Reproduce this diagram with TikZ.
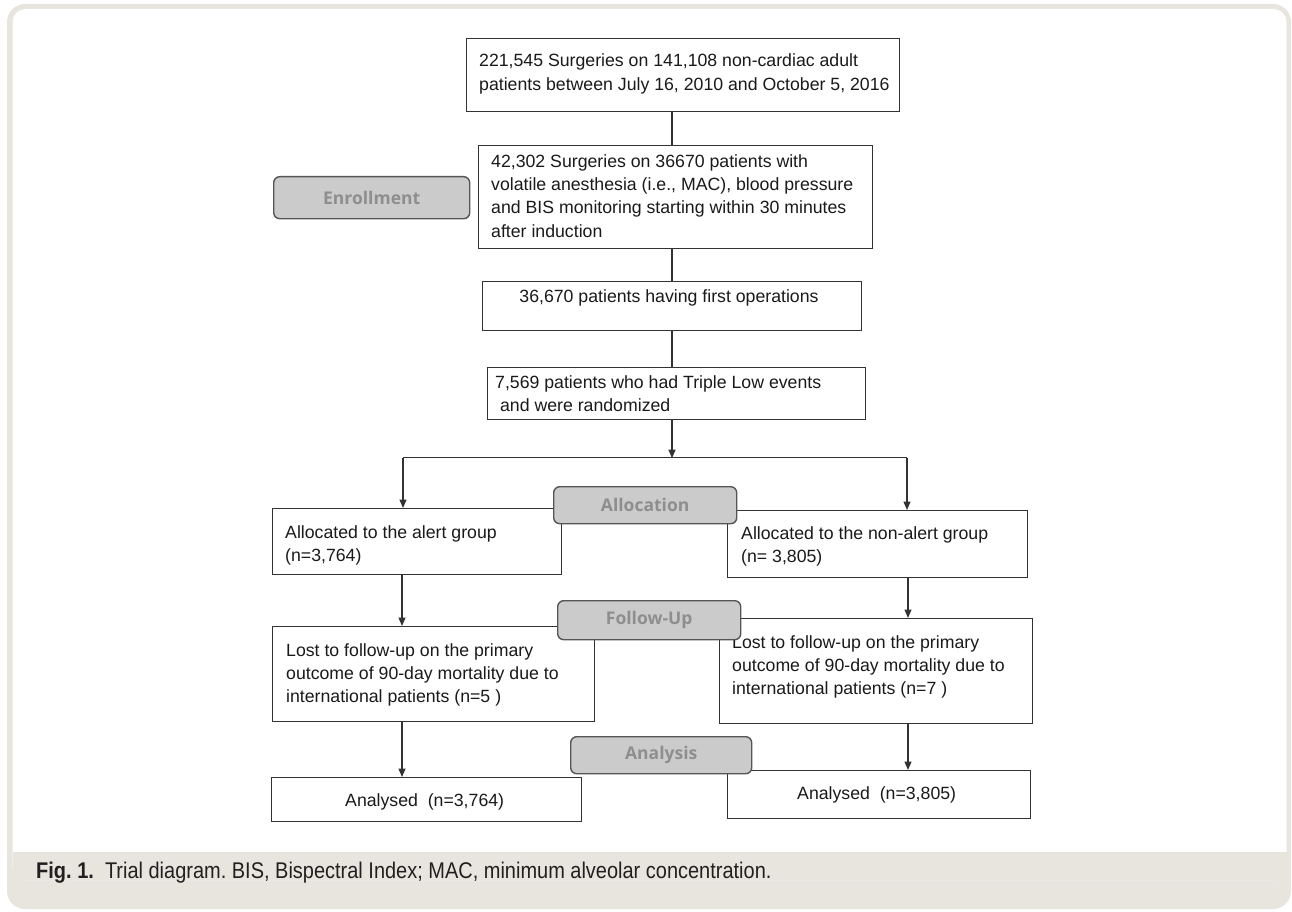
\documentclass[tikz,border=0pt]{standalone}
\usepackage{fontspec}
\setmainfont{Liberation Sans}
\newfontfamily\lblfont{Open Sans}
\newfontfamily\capfont[FakeStretch=0.88]{Liberation Sans}
\usetikzlibrary{arrows.meta}
\definecolor{framec}{HTML}{E8E5DF}
\definecolor{linec}{HTML}{333333}
\definecolor{textc}{HTML}{1A1A1A}
\definecolor{lblfill}{HTML}{CBCBCB}
\definecolor{lbltext}{HTML}{8E8E8E}
\definecolor{lbldraw}{HTML}{555555}
\definecolor{capc}{HTML}{231F20}
\tikzset{
  box/.style={draw=linec, line width=1.3pt, fill=white, inner sep=0pt, anchor=north west},
  lbl/.style={draw=lbldraw, line width=1.4pt, fill=lblfill, rounded corners=6pt, inner sep=0pt, anchor=north west,
    font=\lblfont\bfseries\fontsize{17.5}{20}\selectfont, text=lbltext},
  txt/.style={inner sep=0pt, align=left, text=textc, font=\fontsize{17.7}{23.4}\selectfont},
  conn/.style={draw=linec, line width=1.3pt},
  arr/.style={conn, -{Triangle[length=8.5pt,width=7pt]}}
}
\frenchspacing
\begin{document}
\begin{tikzpicture}[x=1pt,y=-1pt]
\useasboundingbox (0,0) rectangle (1292,912);
% frame
\fill[framec, rounded corners=18pt] (7,4) rectangle (1291,909);
\fill[white, rounded corners=13pt] (12.5,9) rectangle (1286.5,880);
\fill[framec] (12.5,852) rectangle (1286.5,880);
% boxes
\node[box, minimum width=433pt, minimum height=73pt] (b1) at (466,38) {};
\node[box, minimum width=394pt, minimum height=103pt] (b2) at (478,145) {};
\node[box, minimum width=379pt, minimum height=49pt] (b3) at (482,281) {};
\node[box, minimum width=378pt, minimum height=52pt] (b4) at (487,367) {};
\node[box, minimum width=289pt, minimum height=66pt] (a1) at (272,508) {};
\node[box, minimum width=300pt, minimum height=67pt] (a2) at (727,510) {};
\node[box, minimum width=322pt, minimum height=95pt] (f1) at (272,626) {};
\node[box, minimum width=313pt, minimum height=105pt] (f2) at (719,618) {};
\node[box, minimum width=310pt, minimum height=44pt] (n1) at (271,777) {};
\node[box, minimum width=303pt, minimum height=48pt] (n2) at (727,770) {};
% texts (anchor = baseline of the last line)
\node[txt, anchor=base west] (t1) at (479,90.4) {221,545 Surgeries on 141,108 non-cardiac adult\\patients between July 16, 2010 and October 5, 2016};
\node[txt, anchor=base west] (t2) at (491,237.2) {42,302 Surgeries on 36670 patients with\\volatile anesthesia (i.e., MAC), blood pressure\\and BIS monitoring starting within 30 minutes\\after induction};
\node[txt, anchor=base] (t3) at (669,302) {36,670 patients having first operations};
\node[txt, anchor=base west] (t4) at (495,411.4) {7,569 patients who had Triple Low events\\\ and were randomized};
\node[txt, anchor=base west] (ta1) at (285,561.4) {Allocated to the alert group\\(n=3,764)};
\node[txt, anchor=base west] (ta2) at (741,562.4) {Allocated to the non-alert group\\(n= 3,805)};
\node[txt, anchor=base west] (tf1) at (286,702.8) {Lost to follow-up on the primary\\outcome of 90-day mortality due to\\international patients (n=5 )};
\node[txt, anchor=base west] (tf2) at (732,694.8) {Lost to follow-up on the primary\\outcome of 90-day mortality due to\\international patients (n=7 )};
\node[txt, anchor=base west] (tn1) at (345,806) {Analysed\ \ (n=3,764)};
\node[txt, anchor=base west] (tn2) at (797,799) {Analysed\ \ (n=3,805)};
% connectors
\coordinate (spine) at (672,0);
\coordinate (splitL) at (403,457.5);
\coordinate (splitR) at (907,457.5);
\coordinate (colL) at (402,0);
\coordinate (colR) at (908,0);
\draw[conn] (spine |- b1.south) -- (spine |- b2.north);
\draw[conn] (spine |- b2.south) -- (spine |- b3.north);
\draw[conn] (spine |- b3.south) -- (spine |- b4.north);
\draw[arr] (spine |- b4.south) -- ([yshift=-0.6pt]spine |- splitL);
\draw[conn] (splitL) -- (splitR);
\draw[arr] (splitL) -- (splitL |- a1.north);
\draw[arr] (splitR) -- (splitR |- a2.north);
\draw[arr] (colL |- a1.south) -- (colL |- f1.north);
\draw[arr] (colR |- a2.south) -- (colR |- f2.north);
\draw[arr] (colL |- f1.south) -- (colL |- n1.north);
\draw[arr] (colR |- f2.south) -- (colR |- n2.north);
% stage labels
\node[lbl, minimum width=196pt, minimum height=42pt] (lEnr) at (273,176) {Enrollment};
\node[lbl, minimum width=183pt, minimum height=37pt] (lAlloc) at (553,486) {Allocation};
\node[lbl, minimum width=183pt, minimum height=39pt] (lFU) at (557,600) {Follow-Up};
\node[lbl, minimum width=181pt, minimum height=37pt] (lAna) at (570,736) {Analysis};
% caption
\node[anchor=base west, inner sep=0pt, text=capc, font=\capfont\fontsize{22.7}{27}\selectfont] (cap) at (36,878) {\textbf{Fig. 1.}\ \ Trial diagram. BIS, Bispectral Index; MAC, minimum alveolar concentration.};
\end{tikzpicture}
\end{document}
